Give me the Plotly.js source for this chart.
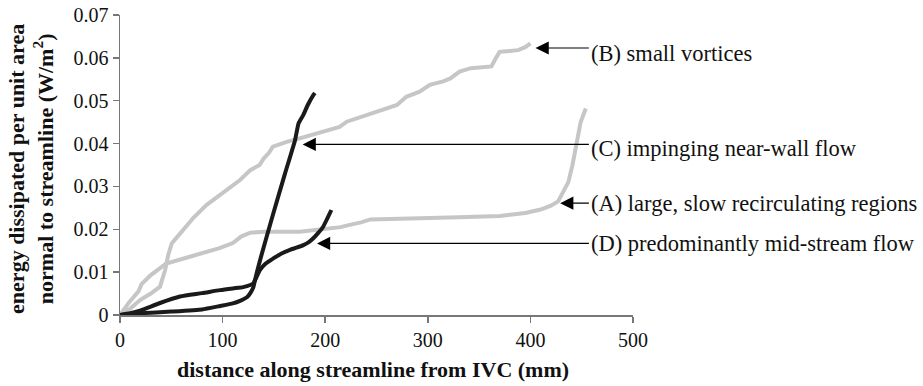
<!DOCTYPE html>
<html>
<head>
<meta charset="utf-8">
<script src="https://cdn.plot.ly/plotly-3.0.1.min.js"></script>
<style>html,body{margin:0;padding:0;background:#fff;}#chart{width:923px;height:386px;}</style>
</head>
<body>
<div id="chart"></div>
<script>
// Curve A: large, slow recirculating regions (grey)
const A_x = [0, 9, 18, 21, 30, 45, 68, 97, 110, 118, 127, 140, 175, 195, 215, 227, 235, 244, 270, 300, 330, 370, 395, 410, 420, 427, 432, 437, 441, 445, 449, 454];
const A_y = [0, 0.003, 0.0055, 0.0072, 0.0093, 0.012, 0.0136, 0.0156, 0.0168, 0.0183, 0.0192, 0.0194, 0.0194, 0.0200, 0.0205, 0.0212, 0.0216, 0.0223, 0.0224, 0.0226, 0.0228, 0.0231, 0.0238, 0.0246, 0.0255, 0.0265, 0.029, 0.031, 0.035, 0.040, 0.045, 0.0482];
// Curve B: small vortices (grey)
const B_x = [0, 10, 19.5, 30, 39, 44, 47, 50.4, 55, 61.7, 72, 84.5, 95, 104, 117, 127, 136, 140, 145, 149, 155, 162.5, 175, 193, 205, 214, 221, 235, 245, 260, 270, 279, 292, 302, 315, 322, 331, 342, 350, 357, 362, 366, 370, 380, 388, 395, 400];
const B_y = [0, 0.0015, 0.0035, 0.005, 0.0066, 0.0105, 0.014, 0.0167, 0.018, 0.0198, 0.0228, 0.0257, 0.0275, 0.0292, 0.0315, 0.0338, 0.0350, 0.0365, 0.0378, 0.0393, 0.0398, 0.0404, 0.0412, 0.0424, 0.0432, 0.0439, 0.0451, 0.0462, 0.047, 0.0482, 0.049, 0.0509, 0.0521, 0.0537, 0.0545, 0.0552, 0.0568, 0.0576, 0.0578, 0.0579, 0.058, 0.0598, 0.0614, 0.0616, 0.0618, 0.0625, 0.0634];
// Curve C: impinging near-wall flow (black)
const C_x = [0, 20, 50, 80, 97.5, 110, 117, 124, 127, 130, 131.6, 134, 136.5, 149.4, 160.8, 170.6, 174, 178.7, 183, 188.4, 190];
const C_y = [0, 0.0004, 0.0008, 0.0013, 0.0021, 0.0027, 0.0033, 0.0042, 0.0051, 0.0065, 0.0082, 0.0105, 0.0128, 0.0237, 0.0330, 0.0408, 0.0447, 0.0467, 0.049, 0.0513, 0.0518];
// Curve D: predominantly mid-stream flow (black)
const D_x = [0, 10, 19.5, 39, 58.5, 80, 97.5, 110, 120, 127, 130, 133, 136.5, 142, 149.4, 157, 165.7, 172, 178.7, 184, 188.4, 193, 198, 202, 206];
const D_y = [0, 0.0004, 0.001, 0.0028, 0.0043, 0.0051, 0.0058, 0.0062, 0.0065, 0.007, 0.0074, 0.0088, 0.0105, 0.0120, 0.0132, 0.0143, 0.0152, 0.0157, 0.0163, 0.0170, 0.0179, 0.0191, 0.0206, 0.0225, 0.0245];

// Labels and arrow targets
const labels = ["(B) small vortices", "(C) impinging near-wall flow", "(A) large, slow recirculating regions", "(D) predominantly mid-stream flow"];
const arrowTipX = [405, 178, 429, 192];
const arrowTipY = [0.0623, 0.0398, 0.0261, 0.0167];
const arrowTailX = 457;

const xTicks = [0, 100, 200, 300, 400, 500];
const yTicks = [0, 0.01, 0.02, 0.03, 0.04, 0.05, 0.06, 0.07];
const yTickText = ["0", "0.01", "0.02", "0.03", "0.04", "0.05", "0.06", "0.07"];

const GREY = '#c6c6c6';
const BLACK = '#1a1a1a';
const FAMILY = 'Liberation Serif';
// label box heights: text sits slightly below the arrow for B and A
const boxH = [36, 33, null, null];

const traces = [
  {x: A_x, y: A_y, mode: 'lines', line: {color: GREY, width: 4}, name: 'A'},
  {x: B_x, y: B_y, mode: 'lines', line: {color: GREY, width: 4}, name: 'B'},
  {x: C_x, y: C_y, mode: 'lines', line: {color: BLACK, width: 4, shape: 'spline', smoothing: 0.4}, name: 'C'},
  {x: D_x, y: D_y, mode: 'lines', line: {color: BLACK, width: 4, shape: 'spline', smoothing: 0.6}, name: 'D'}
];

const annotations = [];
for (let i = 0; i < labels.length; i++) {
  const a = {
    x: arrowTipX[i], y: arrowTipY[i], xref: 'x', yref: 'y',
    ax: arrowTailX, ay: arrowTipY[i], axref: 'x', ayref: 'y',
    xanchor: 'left', yanchor: 'middle', borderpad: 1,
    text: labels[i], font: {family: FAMILY, size: 22.5, color: '#111'},
    showarrow: true, arrowhead: 2, arrowsize: 2.2, arrowwidth: 1.2, arrowcolor: '#000'
  };
  if (boxH[i]) { a.height = boxH[i]; a.valign = 'bottom'; }
  annotations.push(a);
}
annotations.push({
  x: -0.1735, y: 0.487, xref: 'paper', yref: 'paper', xanchor: 'center', yanchor: 'middle',
  textangle: -90, showarrow: false,
  text: '<b>energy dissipated per unit area<br>normal to streamline (W/m<sup>2</sup>)</b>',
  font: {family: FAMILY, size: 22, color: '#111'}
});
annotations.push({
  x: 0.493, y: -0.183, xref: 'paper', yref: 'paper', xanchor: 'center', yanchor: 'middle',
  showarrow: false,
  text: '<b>distance along streamline from IVC (mm)</b>',
  font: {family: FAMILY, size: 22, color: '#111'}
});

const layout = {
  width: 923, height: 386,
  margin: {l: 120, r: 290, t: 15, b: 71, pad: 0},
  showlegend: false,
  paper_bgcolor: '#fff', plot_bgcolor: '#fff',
  font: {family: FAMILY, color: '#111'},
  xaxis: {
    range: [0, 500], tickvals: xTicks, ticktext: xTicks.map(String),
    showgrid: false, zeroline: false, showline: true, linecolor: '#777', linewidth: 1.5,
    ticks: 'outside', ticklen: 6, tickcolor: '#777', tickwidth: 1.5,
    tickfont: {family: FAMILY, size: 20, color: '#111'}, fixedrange: true
  },
  yaxis: {
    range: [0, 0.07], tickvals: yTicks, ticktext: yTickText,
    showgrid: false, zeroline: false, showline: true, linecolor: '#777', linewidth: 1.5,
    ticks: 'outside', ticklen: 6, tickcolor: '#777', tickwidth: 1.5,
    tickfont: {family: FAMILY, size: 20, color: '#111'}, fixedrange: true
  },
  annotations: annotations
};

Plotly.newPlot('chart', traces, layout, {staticPlot: true});
</script>
</body>
</html>
